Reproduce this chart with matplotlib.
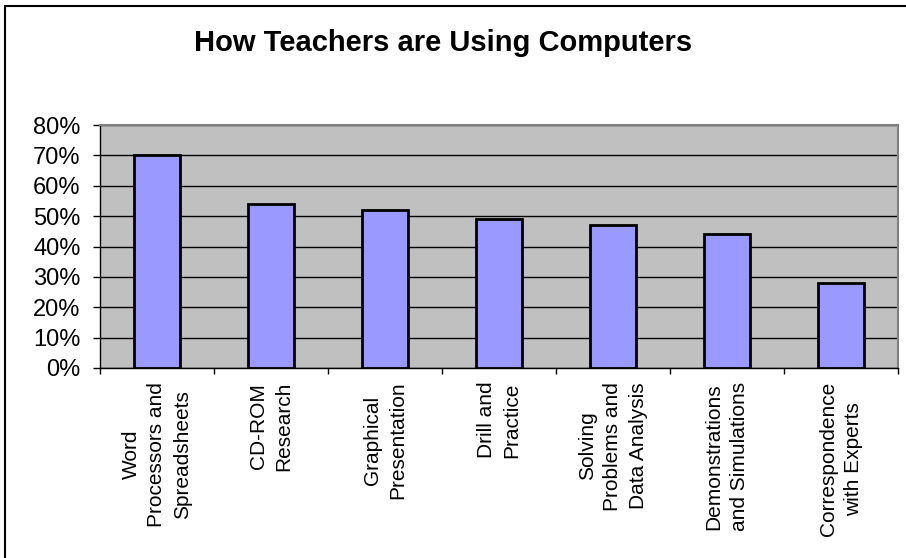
import matplotlib
matplotlib.use("Agg")
import matplotlib.pyplot as plt
from matplotlib.patches import Rectangle
from matplotlib.ticker import FuncFormatter

categories = [
    "Word\nProcessors and\nSpreadsheets",
    "CD-ROM\nResearch",
    "Graphical\nPresentation",
    "Drill and\nPractice",
    "Solving\nProblems and\nData Analysis",
    "Demonstrations\nand Simulations",
    "Correspondence\nwith Experts",
]
values = [0.70, 0.54, 0.52, 0.49, 0.47, 0.44, 0.28]
y_ticks = [0.0, 0.1, 0.2, 0.3, 0.4, 0.5, 0.6, 0.7, 0.8]

W, H = 906, 558
plt.rcParams['font.family'] = ['Liberation Sans', 'DejaVu Sans']

fig = plt.figure(figsize=(W / 100, H / 100), dpi=100)
# plot area in pixels: left 100, right 898, top 125, bottom 368
ax = fig.add_axes([100 / W, 1 - 368 / H, 798 / W, 243 / H])
ax.set_facecolor('#c0c0c0')

x = range(len(values))
ax.bar(x, values, width=0.41, color='#9999ff', edgecolor='black', linewidth=2, zorder=3)

ax.set_xlim(-0.5, len(values) - 0.5)
ax.set_ylim(0, 0.8)
ax.set_yticks(y_ticks)
ax.yaxis.set_major_formatter(FuncFormatter(lambda v, p: f"{v * 100:.0f}%"))
ax.yaxis.grid(True, color='black', linewidth=1, zorder=1)
ax.set_axisbelow(True)

# category boundary ticks, labels at centers
ax.set_xticks([i - 0.5 for i in range(len(values) + 1)])
ax.set_xticklabels([])
ax.tick_params(axis='x', direction='out', length=4, width=1, color='black')
ax.tick_params(axis='y', direction='out', length=5, width=1, color='black',
               labelsize=17, pad=9)
for i, lab in enumerate(categories):
    ax.text(i, -0.045, lab, rotation=90, ha='center', va='top',
            multialignment='center', fontsize=15, linespacing=1.45,
            transform=ax.transData)

for s in ['top', 'right']:
    ax.spines[s].set_color('#808080')
    ax.spines[s].set_linewidth(1.5)
for s in ['left', 'bottom']:
    ax.spines[s].set_color('black')
    ax.spines[s].set_linewidth(1)

fig.text(443 / W, 1 - 43 / H, "How Teachers are Using Computers",
         ha='center', va='center', fontsize=21, fontweight='bold')

# chart area border (only top/left inside the image)
fig.patches.append(Rectangle((5 / W, -0.1), 1.2, 1 - 6 / H + 0.1,
                             transform=fig.transFigure, fill=False,
                             edgecolor='black', linewidth=1.5))

fig.savefig("out.png", dpi=100)
